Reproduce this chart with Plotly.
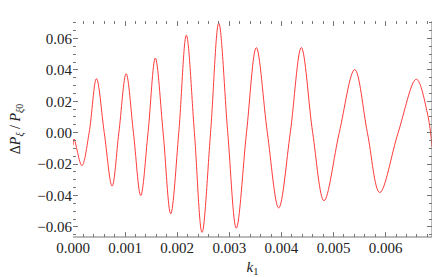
import plotly.graph_objects as go

# points (extrema and zero crossings)
k1 = [0.0, 0.00002, 0.00017, 0.00031, 0.00045, 0.00060, 0.00075, 0.00088,
      0.00102, 0.00116, 0.00130, 0.00144, 0.00158, 0.00173, 0.001875,
      0.00203, 0.002175, 0.00233, 0.002476, 0.00264, 0.002797, 0.00297,
      0.003134, 0.00333, 0.003518, 0.00373, 0.003948, 0.00417, 0.004382,
      0.00460, 0.004818, 0.00511, 0.005407, 0.00565, 0.005887, 0.00624,
      0.00659, 0.00681, 0.00689]
dP = [-0.008, -0.004, -0.021, 0.0, 0.0344, 0.0, -0.034, 0.0,
      0.0375, 0.0, -0.040, 0.0, 0.0475, 0.0, -0.0516,
      0.0, 0.0621, 0.0, -0.0635, 0.0, 0.0698, 0.0,
      -0.0608, 0.0, 0.0542, 0.0, -0.0479, 0.0, 0.0542,
      0.0, -0.0433, 0.0, 0.0402, 0.0, -0.0381, 0.0,
      0.034, 0.011, -0.009]

fig = go.Figure(go.Scatter(
    x=k1, y=dP, mode="lines",
    line=dict(color="#ff3b3b", width=1, shape="spline", smoothing=1.0),
))

axis_common = dict(
    showgrid=False, zeroline=False, showline=False,
    ticks="inside", ticklen=5, tickcolor="#777", tickwidth=1,
    mirror="ticks",
    tickfont=dict(family="Liberation Serif", size=15, color="#222"),
)

fig.update_layout(
    width=440, height=277,
    margin=dict(l=65, r=16, t=13, b=44),
    plot_bgcolor="white", paper_bgcolor="white",
    showlegend=False,
    xaxis=dict(
        range=[0, 0.00689], dtick=0.001, tick0=0, tickformat=".3f",
        minor=dict(ticks="inside", ticklen=3, dtick=0.0002, tickcolor="#777"),
        title=dict(text="<i>k</i><sub>1</sub>", standoff=6,
                   font=dict(family="Liberation Serif", size=15, color="#222")),
        **axis_common,
    ),
    yaxis=dict(
        range=[-0.0664, 0.0711], dtick=0.02, tick0=0, tickformat=".2f",
        minor=dict(ticks="inside", ticklen=3, dtick=0.005, tickcolor="#777"),
        automargin=False,
        title=dict(text="Δ<i>P</i><sub><i>ξ</i></sub> / <i>P</i><sub><i>ξ</i>0</sub>",
                   standoff=14,
                   font=dict(family="Liberation Serif", size=14, color="#222")),
        **axis_common,
    ),
    shapes=[
        dict(type="line", xref="paper", yref="paper", x0=0, x1=1, y0=0, y1=0,
             line=dict(color="#777", width=1)),
        dict(type="line", xref="paper", yref="paper", x0=1, x1=1, y0=0, y1=1,
             line=dict(color="#777", width=1)),
    ],
)

fig.write_html("out.html")
